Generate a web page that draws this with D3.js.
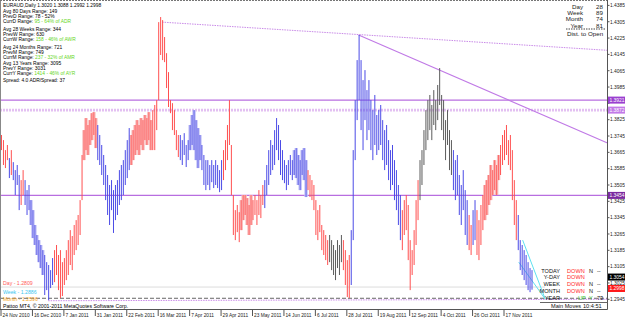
<!DOCTYPE html>
<html>
<head>
<meta charset="utf-8">
<script src="https://cdn.jsdelivr.net/npm/d3@7"></script>
<style>
  body { margin: 0; background: #fff; }
  svg { display: block; font-family: "Liberation Sans", Arial, sans-serif; }
</style>
</head>
<body>
<div id="chart"></div>
<script>
// daily bars, 24 Nov 2010 onwards (one per weekday)
const highs = [
  1.3750,1.3725,1.3676,1.3701,1.3637,1.3676,1.3617,1.3578,1.3603,1.3554,
  1.3529,1.3578,1.3529,1.3480,1.3505,1.3431,1.3382,1.3309,1.3260,1.3235,
  1.3211,1.3186,1.3162,1.3127,1.3113,1.3088,1.3147,1.3186,1.3211,1.3162,
  1.3186,1.3127,1.3147,1.3186,1.3235,1.3284,1.3255,1.3309,1.3333,1.3358,
  1.3431,1.3652,1.3774,1.3833,1.3799,1.3823,1.3857,1.3862,1.3833,1.3799,
  1.3750,1.3701,1.3652,1.3603,1.3554,1.3505,1.3529,1.3480,1.3505,1.3529,
  1.3578,1.3603,1.3627,1.3676,1.3725,1.3784,1.3750,1.3774,1.3799,1.3823,
  1.3799,1.3833,1.3823,1.3848,1.3833,1.3862,1.3823,1.3872,1.3897,1.3921,
  1.4303,1.4328,1.4313,1.4230,1.4151,1.4058,1.3921,1.3906,1.3872,1.3774,
  1.3750,1.3750,1.3725,1.3759,1.3701,1.3725,1.3799,1.3848,1.3872,1.3823,
  1.3784,1.3750,1.3701,1.3652,1.3627,1.3627,1.3603,1.3627,1.3603,1.3627,
  1.3603,1.3578,1.3627,1.3676,1.3725,1.3799,1.3921,1.3701,1.3456,1.3382,
  1.3407,1.3372,1.3431,1.3456,1.3456,1.3441,1.3407,1.3456,1.3431,1.3456,
  1.3431,1.3480,1.3456,1.3505,1.3529,1.3603,1.3676,1.3725,1.3701,1.3774,
  1.3833,1.3799,1.3725,1.3676,1.3627,1.3603,1.3627,1.3652,1.3627,1.3676,
  1.3686,1.3652,1.3627,1.3676,1.3686,1.3627,1.3578,1.3554,1.3529,1.3505,
  1.3431,1.3382,1.3407,1.3309,1.3284,1.3260,1.3235,1.3260,1.3235,1.3211,
  1.3186,1.3235,1.3211,1.3260,1.3235,1.3186,1.3137,1.3162,1.3284,1.3676,
  1.3921,1.4117,1.4240,1.4117,1.4019,1.4068,1.3970,1.4019,1.3921,1.3872,
  1.3946,1.3848,1.3872,1.3897,1.3823,1.3774,1.3799,1.3725,1.3676,1.3701,
  1.3627,1.3578,1.3505,1.3456,1.3382,1.3431,1.3456,1.3407,1.3235,1.3186,
  1.3284,1.3431,1.3529,1.3627,1.3676,1.3774,1.3872,1.3921,1.3946,1.3897,
  1.3970,1.3921,1.3995,1.4078,1.3946,1.3921,1.3823,1.3872,1.3774,1.3725,
  1.3676,1.3627,1.3652,1.3554,1.3505,1.3578,1.3480,1.3431,1.3358,1.3309,
  1.3382,1.3431,1.3382,1.3333,1.3407,1.3456,1.3505,1.3529,1.3554,1.3603,
  1.3578,1.3627,1.3603,1.3652,1.3701,1.3750,1.3774,1.3799,1.3725,1.3750,
  1.3676,1.3529,1.3431,1.3358,1.3235,1.3211,1.3186,1.3162,1.3127,1.3098,1.3088
];
const lows = [
  1.3676,1.3603,1.3588,1.3627,1.3539,1.3554,1.3529,1.3456,1.3505,1.3382,
  1.3407,1.3456,1.3407,1.3358,1.3382,1.3309,1.3245,1.3211,1.3162,1.3127,
  1.3098,1.3064,1.2966,1.2990,1.2941,1.3000,1.3015,1.3029,1.3064,1.2990,
  1.2951,1.2961,1.3015,1.3039,1.3064,1.3113,1.3088,1.3162,1.3186,1.3211,
  1.3260,1.3431,1.3627,1.3676,1.3652,1.3701,1.3725,1.3750,1.3686,1.3627,
  1.3603,1.3554,1.3505,1.3431,1.3358,1.3309,1.3382,1.3270,1.3333,1.3358,
  1.3407,1.3431,1.3456,1.3505,1.3539,1.3578,1.3603,1.3627,1.3652,1.3676,
  1.3652,1.3701,1.3676,1.3725,1.3701,1.3725,1.3676,1.3676,1.3676,1.3774,
  1.3921,1.4142,1.4117,1.4107,1.3980,1.3887,1.3857,1.3774,1.3750,1.3676,
  1.3642,1.3627,1.3603,1.3652,1.3593,1.3627,1.3676,1.3701,1.3676,1.3627,
  1.3588,1.3627,1.3578,1.3505,1.3480,1.3505,1.3480,1.3519,1.3490,1.3505,
  1.3490,1.3470,1.3480,1.3529,1.3578,1.3627,1.3701,1.3456,1.3260,1.3235,
  1.3274,1.3225,1.3284,1.3333,1.3358,1.3309,1.3260,1.3309,1.3333,1.3358,
  1.3309,1.3358,1.3343,1.3407,1.3392,1.3456,1.3505,1.3554,1.3578,1.3603,
  1.3676,1.3627,1.3554,1.3529,1.3514,1.3480,1.3505,1.3554,1.3529,1.3554,
  1.3539,1.3505,1.3480,1.3554,1.3529,1.3446,1.3480,1.3446,1.3431,1.3382,
  1.3260,1.3235,1.3274,1.3186,1.3162,1.3137,1.3113,1.3127,1.3088,1.3064,
  1.3039,1.3098,1.3064,1.3127,1.3088,1.3015,1.2956,1.2951,1.3015,1.3235,
  1.3627,1.3823,1.3921,1.3774,1.3676,1.3823,1.3725,1.3774,1.3676,1.3627,
  1.3701,1.3652,1.3676,1.3701,1.3627,1.3578,1.3603,1.3529,1.3480,1.3505,
  1.3431,1.3382,1.3309,1.3235,1.3186,1.3260,1.3284,1.3137,1.2990,1.3064,
  1.3113,1.3211,1.3333,1.3431,1.3505,1.3603,1.3676,1.3725,1.3774,1.3725,
  1.3799,1.3774,1.3823,1.3897,1.3774,1.3725,1.3627,1.3701,1.3578,1.3554,
  1.3480,1.3431,1.3456,1.3358,1.3309,1.3382,1.3260,1.3211,1.3186,1.3162,
  1.3211,1.3235,1.3162,1.3137,1.3211,1.3284,1.3333,1.3358,1.3407,1.3431,
  1.3456,1.3480,1.3456,1.3529,1.3554,1.3603,1.3627,1.3652,1.3603,1.3578,
  1.3431,1.3309,1.3235,1.3186,1.3088,1.3064,1.3039,1.3015,1.2990,1.2980,1.2992
];
// R red, B blue, G grey, P red with pink body, L blue with light blue body
const barKinds = [
  "RRRRBRBBBBRRBBBLLLLLLLBBBBB",
  "RRRRRRRRRRRRRRR", "PPPPPPP", "BBBBBBBBBBBBBBBBB", "PPPPPPPPPPP",
  "RRRRRRRRRRRRRR", "BBBBB", "LLLLLL", "BBBBBBBBBBB", "RRRRRRRRR",
  "PPPPPP", "RRRRRR", "BBBBBBBBBBBBBBB", "LLLLLLL", "RRRRRRRRRRR",
  "GGGGGGG", "RRRR", "BBBBBBBBBBBBBBBBBBBBBBBBBB", "RRRRRRRRR",
  "GGGGGGGGGGGGGGGGG", "BBBBBBBB", "RRBBRRRR", "PPPPPPPP", "RRRRRRRRR", "BBBBBBBB"
].join("").split("");

const dateLabels = ["24 Nov 2010","16 Dec 2010","7 Jan 2011","31 Jan 2011","22 Feb 2011",
  "16 Mar 2011","7 Apr 2011","29 Apr 2011","23 May 2011","14 Jun 2011","6 Jul 2011",
  "28 Jul 2011","19 Aug 2011","12 Sep 2011","4 Oct 2011","26 Oct 2011","17 Nov 2011"];
const priceTicks = [1.2945,1.3025,1.3105,1.3185,1.3265,1.3345,1.3425,1.3505,1.3585,
  1.3665,1.3745,1.3825,1.3905,1.3985,1.4065,1.4145,1.4225,1.4305,1.4385];

const levelPrices = [1.3921, 1.3872, 1.3454];
const markerPrices = [1.3921, 1.3872, 1.3454, 1.3054, 1.2998];
const upperChannel = [[82, 1.4303], [307, 1.4166]];
const resistance = [[182, 1.4240], [284, 1.3814]];
const lowerChannel = [[24, 1.2938], [307, 1.2945]];
const cyanA = [[265.5, 1.3235], [277, 1.2946]];
const cyanB = [[263.5, 1.3127], [277, 1.2946]];

const infoLines = [
  ["EURAUD,Daily  1.3020 1.3088 1.2992 1.2998", ""],
  ["Avg 80 Days Range: 149", ""],
  ["PrevD  Range: 78 - 52%", ""],
  ["CurrD  Range: ", "95 - 64% of ADR"],
  ["Avg 28 Weeks Range: 344", ""],
  ["PrevW  Range: 630", ""],
  ["CurrW  Range: ", "158 - 46% of AWR"],
  ["Avg 24 Months Range: 721", ""],
  ["PrevM  Range: 749", ""],
  ["CurrM  Range: ", "237 - 32% of AMR"],
  ["Avg 13 Years Range: 3095", ""],
  ["PrevY  Range: 3031", ""],
  ["CurrY  Range: ", "1414 - 46% of AYR"],
  ["Spread: 4.0  ADR/Spread: 37", ""]
];
const distNames = ["Day", "Week", "Month", "Year"];
const distValues = ["28", "89", "74", "81"];
const moveNames = ["TODAY", "Y-DAY", "WEEK", "MONTH", "YEAR"];
const moveDirs = ["DOWN", "DOWN", "DOWN", "DOWN", "UP"];
const moveFlags = ["N", "", "N", "N", "Y"];
const moveVals = ["--", "", "--", "--", "73"];

const width = 625, height = 319;
const plotRight = 607.5, plotBottom = 309.5;

const svg = d3.select("#chart").append("svg")
  .attr("width", width).attr("height", height);

const x = d3.scaleLinear().domain([0, 256]).range([1, 504]);
const y = d3.scaleLinear().domain([1.2945, 1.4385]).range([299.3, 5.4]);

svg.append("clipPath").attr("id", "plot")
  .append("rect").attr("x", 0).attr("y", 0).attr("width", plotRight).attr("height", plotBottom);

const plot = svg.append("g").attr("clip-path", "url(#plot)");

// frame
svg.append("line").attr("x1", 0.5).attr("x2", 0.5).attr("y1", 0).attr("y2", plotBottom)
  .attr("stroke", "#888");
svg.append("line").attr("x1", 0).attr("x2", plotRight).attr("y1", 0.5).attr("y2", 0.5)
  .attr("stroke", "#777").attr("stroke-dasharray", "2,1");

// horizontal levels
plot.append("line").attr("x1", 0).attr("x2", plotRight)
  .attr("y1", y(levelPrices[0])).attr("y2", y(levelPrices[0]))
  .attr("stroke", "#b86ee0").attr("stroke-width", 1.4);
plot.append("line").attr("x1", 0).attr("x2", plotRight)
  .attr("y1", y(levelPrices[1])).attr("y2", y(levelPrices[1]))
  .attr("stroke", "#e3c0f2").attr("stroke-width", 2.6).attr("stroke-dasharray", "2,1");
plot.append("line").attr("x1", 0).attr("x2", plotRight)
  .attr("y1", y(levelPrices[2])).attr("y2", y(levelPrices[2]))
  .attr("stroke", "#b86ee0").attr("stroke-width", 1.2);
plot.append("line").attr("x1", 0).attr("x2", 545)
  .attr("y1", y(1.3005)).attr("y2", y(1.3005))
  .attr("stroke", "#dcdcdc");
plot.append("line").attr("x1", 0).attr("x2", plotRight)
  .attr("y1", y(1.2950)).attr("y2", y(1.2950))
  .attr("stroke", "#666").attr("stroke-dasharray", "4,2");

function ray(p) {
  const x1 = x(p[0][0]), y1 = y(p[0][1]), x2 = x(p[1][0]), y2 = y(p[1][1]);
  const k = (y2 - y1) / (x2 - x1);
  return [x1, y1, plotRight, y1 + k * (plotRight - x1)];
}
function seg(p) {
  return [x(p[0][0]), y(p[0][1]), x(p[1][0]), y(p[1][1])];
}
function drawLine(c, color, w, dash) {
  plot.append("line").attr("x1", c[0]).attr("y1", c[1]).attr("x2", c[2]).attr("y2", c[3])
    .attr("stroke", color).attr("stroke-width", w).attr("stroke-dasharray", dash || null);
}
drawLine(ray(upperChannel), "#c98ae8", 1, "1.5,1");
drawLine(ray(lowerChannel), "#c98ae8", 1, "1.5,1");
drawLine(ray(resistance), "#c07ae6", 1.1);
drawLine(seg(cyanA), "#5fe0f0", 1);
drawLine(seg(cyanB), "#5fe0f0", 1);

// bars
const lineColor = { R: "#ff5050", B: "#4b4be6", G: "#5c5c5c", P: "#ff6464", L: "#6262e8" };
const bodyColor = { P: "#f8baba", L: "#c2c2f7" };
const bars = highs.map((h, i) => ({ i, h, l: lows[i], k: barKinds[i] }));

plot.append("g").selectAll("rect")
  .data(bars.filter(d => d.k === "P" || d.k === "L"))
  .join("rect")
    .attr("x", d => x(d.i) - 1.2)
    .attr("width", 3.4)
    .attr("y", d => y(d.h))
    .attr("height", d => y(d.l) - y(d.h))
    .attr("fill", d => bodyColor[d.k]);

plot.append("g").selectAll("line")
  .data(bars)
  .join("line")
    .attr("x1", d => x(d.i) + 0.5).attr("x2", d => x(d.i) + 0.5)
    .attr("y1", d => y(d.h)).attr("y2", d => y(d.l))
    .attr("stroke", d => lineColor[d.k])
    .attr("stroke-width", 1);

// price axis
svg.append("line").attr("x1", plotRight).attr("x2", plotRight).attr("y1", 0).attr("y2", plotBottom)
  .attr("stroke", "#555");
const markerYs = markerPrices.map(p => y(p));
const priceAxis = svg.append("g").attr("font-size", 4.9).attr("fill", "#222");
priceTicks.forEach(p => {
  const py = y(p);
  priceAxis.append("line").attr("x1", plotRight).attr("x2", plotRight + 2)
    .attr("y1", py).attr("y2", py).attr("stroke", "#555");
  if (markerYs.some(m => Math.abs(m - py) < 5)) return;
  priceAxis.append("text").attr("x", 610).attr("y", py + 1.8).text(p.toFixed(4));
});
const markerFill = ["#9a3fd0", "#c27ae8", "#7b2aa0", "#000000", "#ff1a1a"];
markerPrices.forEach((p, j) => {
  const py = y(p);
  svg.append("rect").attr("x", 608).attr("y", py - 3.5).attr("width", 17).attr("height", 7)
    .attr("fill", markerFill[j]);
  svg.append("text").attr("x", 609.5).attr("y", py + 1.8).attr("font-size", 4.9)
    .attr("fill", "#fff").text(p.toFixed(4));
});

// time axis
svg.append("line").attr("x1", 0).attr("x2", plotRight).attr("y1", plotBottom).attr("y2", plotBottom)
  .attr("stroke", "#555");
const timeAxis = svg.append("g").attr("font-size", 4.8).attr("fill", "#222");
dateLabels.forEach((t, k) => {
  const tx = x(k * 16);
  timeAxis.append("line").attr("x1", tx).attr("x2", tx).attr("y1", plotBottom).attr("y2", 316)
    .attr("stroke", "#555");
  timeAxis.append("text").attr("x", tx + 1.5).attr("y", 316.5).text(t);
});

// info block (top left)
const info = svg.append("g").attr("font-size", 4.9);
const infoY = [6.5, 13, 18.3, 22.8, 31, 35.7, 40.7, 49, 53.7, 58.7, 65.3, 70, 74.7, 82.3];
infoLines.forEach((ln, j) => {
  const t = info.append("text").attr("x", 3).attr("y", infoY[j]);
  t.append("tspan").attr("fill", "#000").text(ln[0]);
  if (ln[1]) t.append("tspan").attr("fill", "#66d61e").text(ln[1]);
});

// distance to open (top right)
const dist = svg.append("g").attr("font-size", 6.2).attr("fill", "#222");
distNames.forEach((n, j) => {
  const ty = 9 + j * 6.2;
  dist.append("text").attr("x", 583).attr("y", ty).attr("text-anchor", "end").text(n);
  dist.append("text").attr("x", 603).attr("y", ty).attr("text-anchor", "end").text(distValues[j]);
});
dist.append("line").attr("x1", 566).attr("x2", 605).attr("y1", 29).attr("y2", 29)
  .attr("stroke", "#444").attr("stroke-dasharray", "1.5,1");
dist.append("text").attr("x", 567).attr("y", 36).text("Dist. to Open");

// pivot texts (bottom left)
const piv = svg.append("g").attr("font-size", 5.2);
piv.append("text").attr("x", 3).attr("y", 285.3).attr("fill", "#ff5a5a").text("Day   - 1.2809");
piv.append("text").attr("x", 3).attr("y", 293.6).attr("fill", "#3cc6f0").text("Week - 1.2886");
piv.append("text").attr("x", 3).attr("y", 301).attr("fill", "#f5a623").text("Month - 1.2596");
svg.append("text").attr("x", 3).attr("y", 308).attr("font-size", 5.2).attr("fill", "#000")
  .text("Pattoo MT4, \u00a9 2001-2011 MetaQuotes Software Corp.");

// main moves (bottom right)
const mm = svg.append("g").attr("font-size", 5.6);
moveNames.forEach((n, j) => {
  const ty = 272.5 + j * 6.8;
  mm.append("text").attr("x", 560).attr("y", ty).attr("text-anchor", "end").attr("fill", "#111").text(n);
  mm.append("text").attr("x", 567).attr("y", ty).attr("fill", moveDirs[j] === "UP" ? "#3ccf3c" : "#ff2a2a")
    .attr("dx", moveDirs[j] === "UP" ? 11 : 0).text(moveDirs[j]);
  mm.append("text").attr("x", 589).attr("y", ty).attr("fill", moveFlags[j] === "Y" ? "#3ccf3c" : "#111").text(moveFlags[j]);
  mm.append("text").attr("x", 597).attr("y", ty).attr("fill", "#111").text(moveVals[j]);
});
svg.append("line").attr("x1", 540).attr("x2", plotRight).attr("y1", 302.5).attr("y2", 302.5)
  .attr("stroke", "#666");
mm.append("text").attr("x", 551).attr("y", 308).attr("fill", "#111").text("Main Moves");
mm.append("text").attr("x", 583).attr("y", 308).attr("fill", "#111").text("10:4:51");
</script>
</body>
</html>
